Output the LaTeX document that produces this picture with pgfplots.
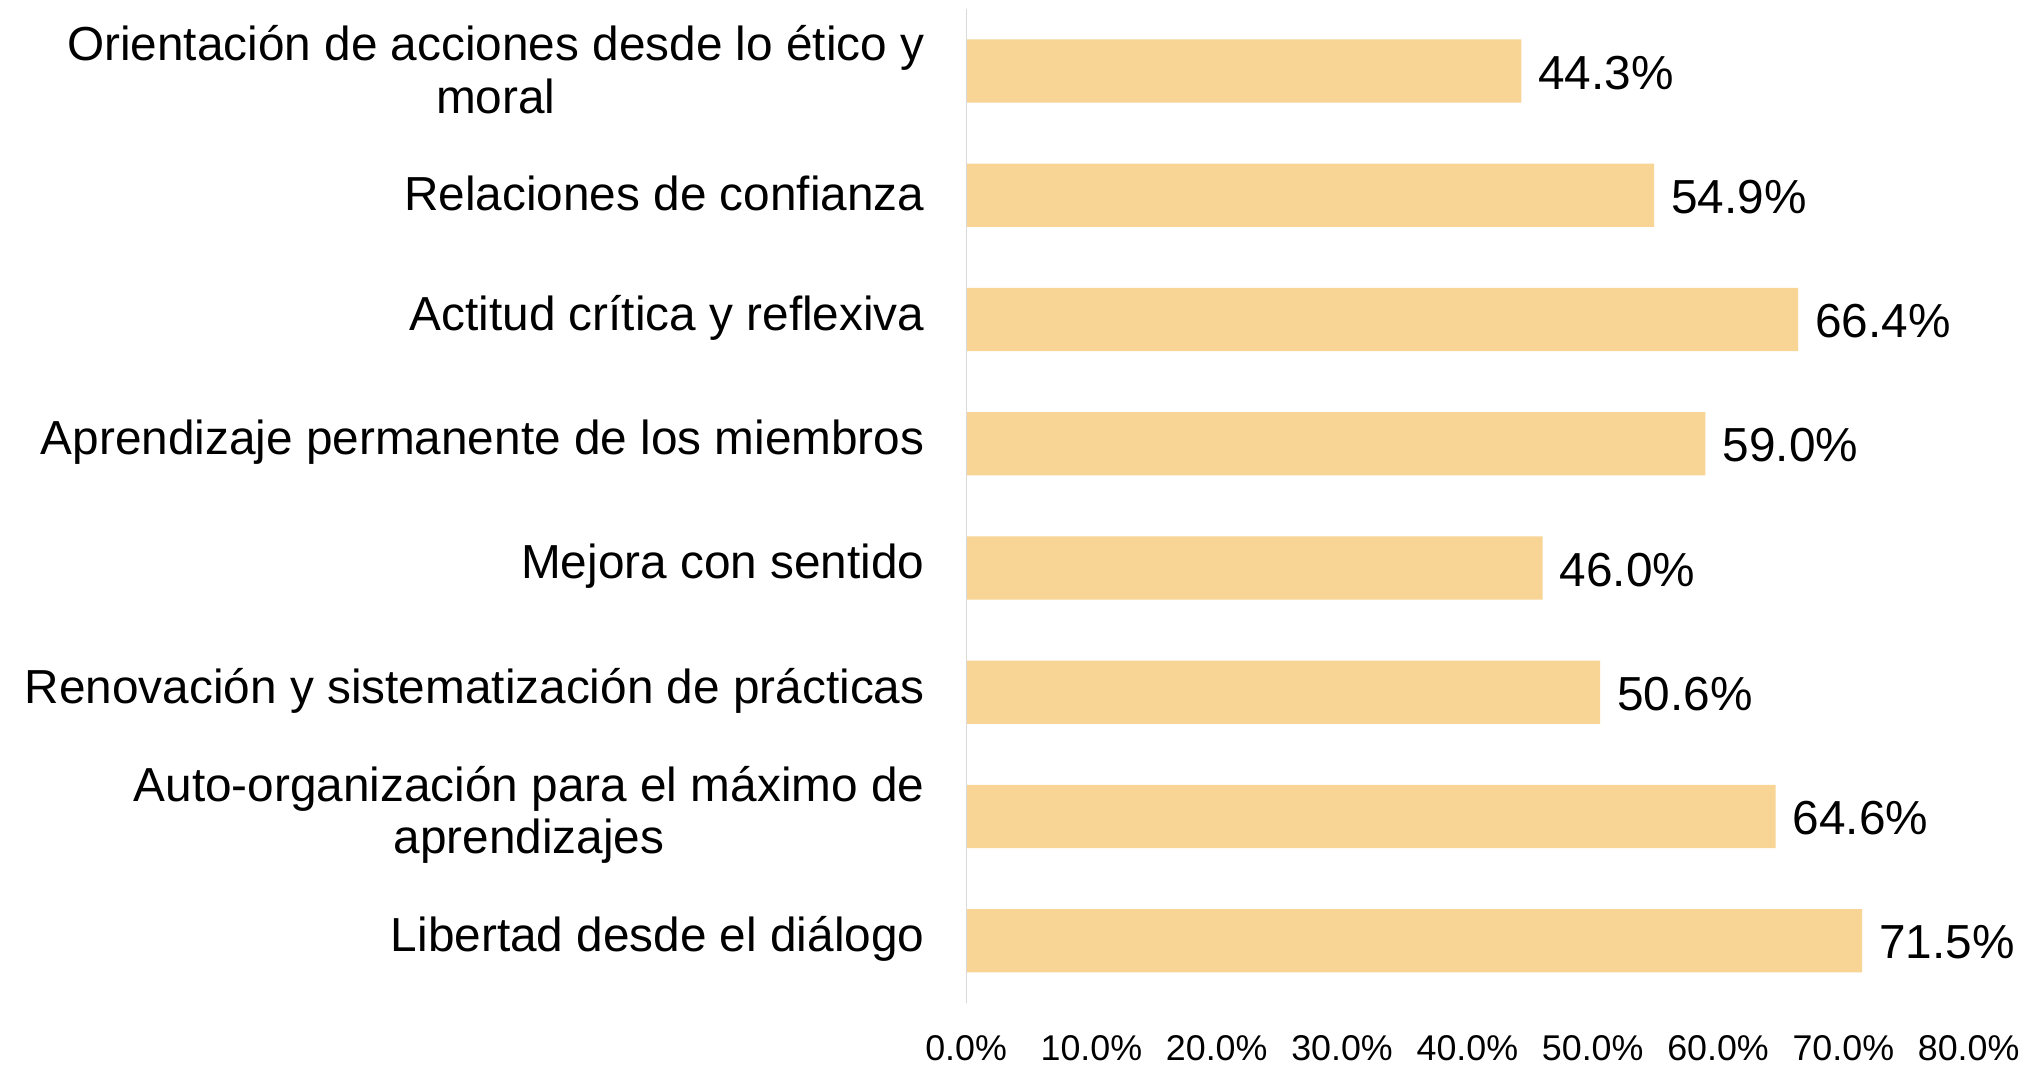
\documentclass[border=0pt]{standalone}
\usepackage{pgfplots}
\pgfplotsset{compat=1.18}
\usepackage{fontspec}
\setmainfont{Liberation Sans}
\definecolor{barfill}{HTML}{F8D495}
\definecolor{axisgray}{HTML}{D9D9D9}
\begin{document}
\begin{tikzpicture}
  \path[use as bounding box] (-283.3pt,-18.8pt) rectangle (311.1pt,294.1pt);
  \begin{axis}[
      at={(0,0)}, anchor=south west,
      scale only axis,
      width=294pt, height=291.5pt,
      xbar, bar width=0.51,
      xmin=0, xmax=80,
      ymin=-0.5, ymax=7.5,
      y dir=reverse,
      xtick={0,10,...,80},
      xticklabel={\pgfmathprintnumber[fixed,fixed zerofill,precision=1]{\tick}\%},
      ytick={0,...,7},
      yticklabels={
        {Orientación de acciones desde lo ético y\\moral},
        {Relaciones de confianza},
        {Actitud crítica y reflexiva},
        {Aprendizaje permanente de los miembros},
        {Mejora con sentido},
        {Renovación y sistematización de prácticas},
        {Auto-organización para el máximo de\\aprendizajes},
        {Libertad desde el diálogo}},
      yticklabel style={align=center, font=\fontsize{14}{15.5}\selectfont, xshift=-4.4pt, yshift=0.5pt},
      xticklabel style={font=\fontsize{10.5}{12}\selectfont, yshift=-6pt},
      /pgf/number format/assume math mode=true,
      tick style={draw=none},
      axis line style={draw=none},
      point meta=explicit symbolic,
      nodes near coords,
      nodes near coords style={font=\fontsize{14}{16}\selectfont, anchor=west, xshift=1.5pt, yshift=-0.5pt},
    ]
    \addplot[draw=none, fill=barfill] coordinates {
      (44.3,0) [44.3\%]
      (54.9,1) [54.9\%]
      (66.4,2) [66.4\%]
      (59.0,3) [59.0\%]
      (46.0,4) [46.0\%]
      (50.6,5) [50.6\%]
      (64.6,6) [64.6\%]
      (71.5,7) [71.5\%]
    };
    % thin vertical category axis
    \draw[axisgray, line width=0.6pt] (axis cs:0,-0.5) -- (axis cs:0,7.5);
  \end{axis}
\end{tikzpicture}
\end{document}
